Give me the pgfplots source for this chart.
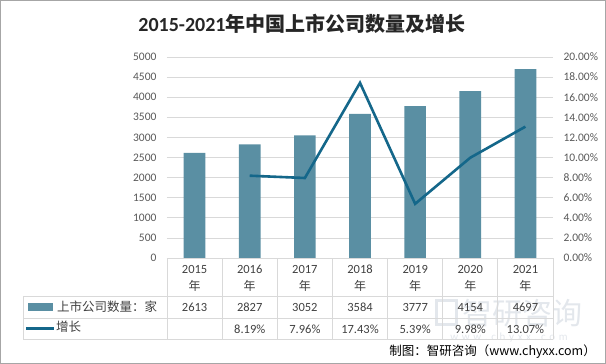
\documentclass[border=0pt]{standalone}
\usepackage{pgfplots}
\pgfplotsset{compat=1.18}
\usepackage{fontspec}
\setmainfont{Carlito}
\newfontfamily\cjk{Noto Sans CJK SC}
\definecolor{barc}{HTML}{5A8FA3}
\definecolor{linec}{HTML}{14678A}
\definecolor{gridc}{HTML}{D9D9D9}
\definecolor{tickc}{HTML}{595959}
\definecolor{tabc}{HTML}{404040}
\definecolor{wmark}{HTML}{E3E7EC}
\begin{document}
\begin{tikzpicture}
% canvas
\path[draw=gray!70, line width=1pt] (0.5pt,-0.5pt) rectangle (605.5pt,-363.5pt);
% title
\node[font=\fontsize{20}{22}\selectfont\bfseries, text=black!85] at (302pt,-24pt) {2015-2021{\cjk 年中国上市公司数量及增长}};

\begin{axis}[
  at={(167pt,-258pt)}, anchor=south west,
  scale only axis, width=386pt, height=201pt,
  xmin=-0.5, xmax=6.5, ymin=0, ymax=5000,
  ytick={0,500,...,5000}, xtick=\empty,
  axis line style={draw=none},
  ymajorgrids, grid style={gridc, line width=0.8pt},
  major tick length=0pt,
  yticklabel style={font=\fontsize{11.5}{13}\selectfont, text=tickc, xshift=-7pt},
  /pgf/number format/assume math mode=true,
  /pgf/number format/set thousands separator={},
  clip=false,
]
\addplot[ybar, bar width=21.7pt, fill=barc, draw=none] coordinates {(0,2613)(1,2827)(2,3052)(3,3584)(4,3777)(5,4154)(6,4697)};
\end{axis}

\begin{axis}[
  at={(167pt,-258pt)}, anchor=south west,
  scale only axis, width=386pt, height=201pt,
  xmin=-0.5, xmax=6.5, ymin=0, ymax=20,
  axis y line*=right, axis x line=none,
  axis line style={draw=none},
  ytick={0,2,...,20},
  yticklabels={0.00\%,2.00\%,4.00\%,6.00\%,8.00\%,10.00\%,12.00\%,14.00\%,16.00\%,18.00\%,20.00\%},
  major tick length=0pt,
  yticklabel style={font=\fontsize{11.5}{13}\selectfont, text=tickc, xshift=7pt, anchor=west},
]
\addplot[linec, line width=2.6pt] coordinates {(1,8.19)(2,7.96)(3,17.43)(4,5.39)(5,9.98)(6,13.07)};
\end{axis}

% watermark
\node[text=wmark, font=\cjk\fontsize{30}{30}\selectfont] at (522pt,-313pt) {智研咨询};
\draw[wmark, line width=3pt] (436pt,-300pt) rectangle (456pt,-324pt);
\node[text=wmark, font=\fontsize{11}{12}\selectfont] at (509pt,-338pt) {w\,\,w\,\,w\,\,.\,\,c\,\,h\,\,y\,\,x\,\,x\,\,.\,\,c\,\,o\,\,m};

% table grid
\begin{scope}[gridc, line width=0.8pt]
\draw (167pt,-258pt) -- (553pt,-258pt);
\draw (23pt,-296pt) -- (553pt,-296pt);
\draw (23pt,-318pt) -- (553pt,-318pt);
\draw (23pt,-339pt) -- (553pt,-339pt);
\draw (23pt,-296pt) -- (23pt,-339pt);
\foreach \i in {0,...,7} {
  \draw ({167pt+55.143pt*\i},-258pt) -- ({167pt+55.143pt*\i},-339pt);
}
\end{scope}

% table text
\foreach \y [count=\i from 0] in {2015,2016,2017,2018,2019,2020,2021} {
  \node[text=tabc, font=\fontsize{12.5}{14}\selectfont] at ({194.6pt+55.143pt*\i},-269pt) {\y};
  \node[text=tabc, font=\cjk\fontsize{12}{14}\selectfont] at ({194.6pt+55.143pt*\i},-285.5pt) {年};
}
\foreach \v [count=\i from 0] in {2613,2827,3052,3584,3777,4154,4697} {
  \node[text=tabc, font=\fontsize{12.5}{14}\selectfont] at ({194.6pt+55.143pt*\i},-307.5pt) {\v};
}
\foreach \v [count=\i from 1] in {8.19\%,7.96\%,17.43\%,5.39\%,9.98\%,13.07\%} {
  \node[text=tabc, font=\fontsize{12.5}{14}\selectfont] at ({194.6pt+55.143pt*\i},-329pt) {\v};
}
% legend in table
\fill[barc] (28pt,-303pt) rectangle (53pt,-311pt);
\node[anchor=west, inner sep=0pt, text=tabc, font=\cjk\fontsize{12.5}{14}\selectfont] at (57pt,-307pt) {上市公司数量：家};
\draw[linec, line width=2.6pt] (26pt,-328.5pt) -- (54pt,-328.5pt);
\node[anchor=west, inner sep=0pt, text=tabc, font=\cjk\fontsize{12.5}{14}\selectfont] at (56pt,-327pt) {增长};

% footer
\node[anchor=east, inner sep=0pt, text=black, font=\cjk\fontsize{12.5}{14}\selectfont] at (596pt,-352pt) {制图：智研咨询（www.chyxx.com）};
\end{tikzpicture}
\end{document}
